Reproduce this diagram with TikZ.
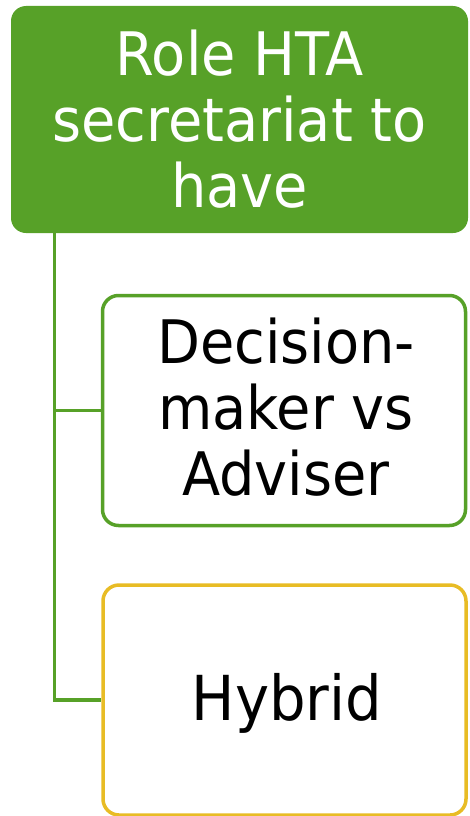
\documentclass[tikz,border=0pt]{standalone}
\usepackage{fontspec}
\setmainfont{DejaVu Sans}[FakeStretch=0.93]
\definecolor{leafgreen}{RGB}{87,161,40}
\definecolor{goldline}{RGB}{232,188,37}
\begin{document}
\begin{tikzpicture}[x=1pt,y=-1pt,
  headbox/.style={fill=leafgreen, draw=none, rounded corners=15pt,
    minimum width=457pt, minimum height=227pt, inner sep=0pt,
    text=white, align=center, font=\fontsize{60}{66}\selectfont},
  itembox/.style={fill=white, line width=3.5pt, rounded corners=16pt,
    minimum width=363pt, minimum height=230pt, inner sep=0pt,
    text=black, align=center, font=\fontsize{60}{66}\selectfont},
  link/.style={draw=leafgreen, line width=3.2pt}]
\useasboundingbox (0,0) rectangle (469,816);
\node[headbox] (hdr) at (239.5,119.5) {Role HTA\\secretariat to\\have};
\node[itembox, draw=leafgreen] (b1) at (284,410.5) {};
\node[font=\fontsize{60}{66}\selectfont, align=center] (t1) at (286,407.5) {Decision-\\maker vs\\Adviser};
\node[itembox, draw=goldline] (b2) at (284.5,700) {};
\node[font=\fontsize{62}{66}\selectfont] (t2) at (287,703) {Hybrid};
\coordinate (spine) at ([xshift=44pt]hdr.south west);
\draw[link] (spine) |- (b1.west);
\draw[link] (spine) |- (b2.west);
\end{tikzpicture}
\end{document}
